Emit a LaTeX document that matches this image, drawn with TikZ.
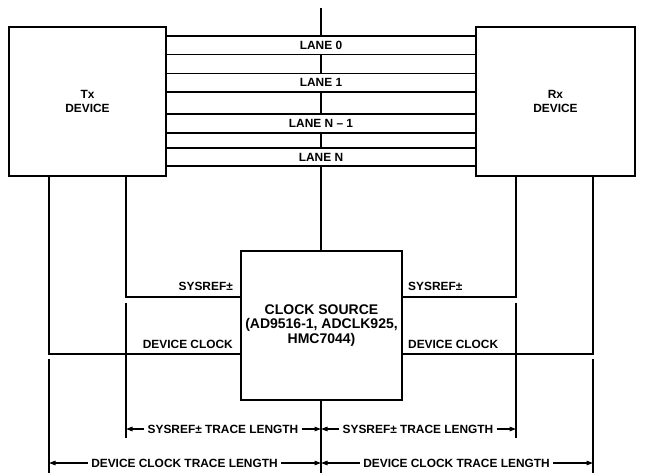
\documentclass[tikz,border=0pt]{standalone}
\usepackage{fontspec}
\setmainfont{Liberation Sans}
\usetikzlibrary{arrows.meta}
\begin{document}
\begin{tikzpicture}[x=1bp,y=-1bp,
  every node/.style={font=\bfseries\fontsize{11.9bp}{13.5bp}\selectfont},
  dev/.style={draw,line width=1.3bp,minimum height=149bp,align=center,inner sep=0pt},
  lanebox/.style={draw,line width=1.1bp,minimum width=310bp,inner sep=0pt},
  wire/.style={line width=1.2bp},
  dimline/.style={line width=1.2bp,-{Triangle[length=6.5bp,width=4.5bp]}},
  dimtext/.style={inner sep=3bp}]
\useasboundingbox (0,0) rectangle (649,473);
% devices
\node[dev,minimum width=157bp] (tx) at (87.5,101.5) {Tx\\DEVICE};
\node[dev,minimum width=159bp] (rx) at (555.5,101.5) {Rx\\DEVICE};
\node[dev,minimum width=161bp,font=\bfseries\fontsize{14bp}{14.5bp}\selectfont] (clk) at (321.5,325.5) {CLOCK SOURCE\\(AD9516-1, ADCLK925,\\HMC7044)};
% lanes
\node[lanebox,minimum height=18.5bp] (l0) at (321,45.25) {LANE 0};
\node[lanebox,minimum height=18.5bp] (l1) at (321,82.75) {LANE 1};
\node[lanebox,minimum height=19bp] (l2) at (321,123.5) {LANE N \textendash\ 1};
\node[lanebox,minimum height=18bp] (l3) at (321,157) {LANE N};
% central line
\coordinate (ctop) at (321,8);
\coordinate (cbot) at (321,473);
\draw[wire] (ctop) -- (l0.north);
\draw[wire] (l0.south) -- (l1.north);
\draw[wire] (l1.south) -- (l2.north);
\draw[wire] (l2.south) -- (l3.north);
\draw[wire] (l3.south) -- (clk.north -| l3.south);
\draw[wire] (clk.south -| cbot) -- (cbot);
% clock routing
\coordinate (sl) at (126,297);
\coordinate (dl) at (49,354);
\coordinate (sr) at (516,297);
\coordinate (dr) at (593,354);
\draw[wire] (tx.south -| sl) |- (clk.west |- sl);
\draw[wire] (tx.south -| dl) |- (clk.west |- dl);
\draw[wire] (rx.south -| sr) |- (clk.east |- sr);
\draw[wire] (rx.south -| dr) |- (clk.east |- dr);
\node[anchor=base east,inner sep=0pt] (lsl) at (233,291) {SYSREF\char"00B1};
\node[anchor=base east,inner sep=0pt] (ldl) at (233,348) {DEVICE CLOCK};
\node[anchor=base west,inner sep=0pt] (lsr) at (408,291) {SYSREF\char"00B1};
\node[anchor=base west,inner sep=0pt] (ldr) at (408,348) {DEVICE CLOCK};
% extension lines
\coordinate (esl) at (126,303); \coordinate (esl2) at (126,438);
\coordinate (esr) at (516,303); \coordinate (esr2) at (516,438);
\coordinate (edl) at (49,359); \coordinate (edl2) at (49,473);
\coordinate (edr) at (593,359); \coordinate (edr2) at (593,473);
\draw[wire] (esl) -- (esl2);
\draw[wire] (esr) -- (esr2);
\draw[wire] (edl) -- (edl2);
\draw[wire] (edr) -- (edr2);
% dimensions
\node[dimtext] (ts1) at (223,429) {SYSREF\char"00B1{} TRACE LENGTH};
\node[dimtext] (ts2) at (418,429) {SYSREF\char"00B1{} TRACE LENGTH};
\node[dimtext] (td1) at (184.5,463) {DEVICE CLOCK TRACE LENGTH};
\node[dimtext] (td2) at (456.5,463) {DEVICE CLOCK TRACE LENGTH};
\draw[dimline] (ts1.west) -- (ts1.west -| esl);
\draw[dimline] (ts1.east) -- (ts1.east -| cbot);
\draw[dimline] (ts2.west) -- (ts2.west -| cbot);
\draw[dimline] (ts2.east) -- (ts2.east -| esr);
\draw[dimline] (td1.west) -- (td1.west -| edl);
\draw[dimline] (td1.east) -- (td1.east -| cbot);
\draw[dimline] (td2.west) -- (td2.west -| cbot);
\draw[dimline] (td2.east) -- (td2.east -| edr);
\end{tikzpicture}
\end{document}
